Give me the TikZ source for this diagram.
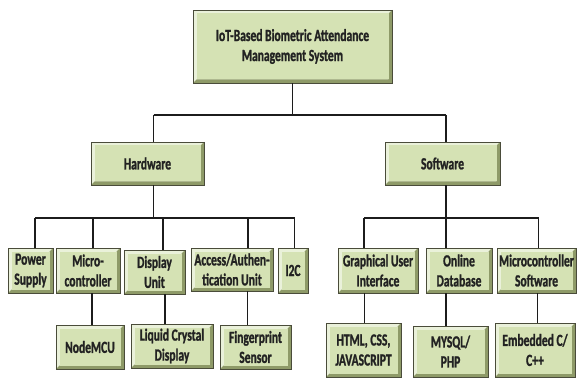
\documentclass[tikz,border=0pt]{standalone}
\usepackage{fontspec}
\newfontfamily\boxfont{Carlito}[FakeStretch=0.68, BoldFeatures={FakeBold=1.2}]
\definecolor{facegreen}{HTML}{D5E2B4}
\definecolor{bevlight}{HTML}{EAF1DA}
\definecolor{bevdark}{HTML}{8E9A68}
\definecolor{edgecol}{HTML}{4A4C3A}
\definecolor{txtcol}{HTML}{222222}
\definecolor{linecol}{HTML}{1C1C1C}
\tikzset{
  box/.style={rectangle, inner sep=0pt, align=center, text=txtcol,
    font=\boxfont\bfseries\fontsize{17}{20}\selectfont,
    draw=edgecol, line width=0.8pt,
    path picture={
      \fill[bevlight] (path picture bounding box.south west) rectangle (path picture bounding box.north east);
      \fill[bevdark] (path picture bounding box.south west) -- (path picture bounding box.south east)
        -- (path picture bounding box.north east) -- ([shift={(-3.5pt,-3.5pt)}]path picture bounding box.north east)
        -- ([shift={(-3.5pt,3.5pt)}]path picture bounding box.south east)
        -- ([shift={(3.5pt,3.5pt)}]path picture bounding box.south west) -- cycle;
      \fill[facegreen] ([shift={(3.5pt,3.5pt)}]path picture bounding box.south west) rectangle ([shift={(-3.5pt,-3.5pt)}]path picture bounding box.north east);
    }},
  conn/.style={draw=linecol, line width=1.6pt}
}
\begin{document}
\begin{tikzpicture}[x=1pt,y=-1pt]
\useasboundingbox[fill=white] (0,0) rectangle (577,379);
% nodes
\node[box, minimum width=199, minimum height=73] (top) at (292.5,46.5) {IoT-Based Biometric Attendance\\Management System};
\node[box, minimum width=113, minimum height=43] (hw) at (147.5,163.5) {Hardware};
\node[box, minimum width=115, minimum height=43] (sw) at (442.5,163.5) {Software};
\node[box, minimum width=45, minimum height=45] (ps) at (30.5,270.5) {Power\\Supply};
\node[box, minimum width=64, minimum height=45] (mc) at (88,270.5) {Micro-\\controller};
\node[box, minimum width=61, minimum height=44] (du) at (154.5,272) {Display\\Unit};
\node[box, minimum width=82, minimum height=43] (au) at (232,269.5) {Access/Authen-\\tication Unit};
\node[box, minimum width=30, minimum height=45] (i2) at (293,270.5) {I2C};
\node[box, minimum width=80, minimum height=45] (gui) at (378,270.5) {Graphical User\\Interface};
\node[box, minimum width=66, minimum height=45] (od) at (459,270.5) {Online\\Database};
\node[box, minimum width=79, minimum height=45] (ms) at (536.5,270.5) {Microcontroller\\Software};
\node[box, minimum width=68, minimum height=44] (nm) at (90,347) {NodeMCU};
\node[box, minimum width=82, minimum height=44] (lcd) at (172,346) {Liquid Crystal\\Display};
\node[box, minimum width=71, minimum height=44] (fp) at (255.5,347) {Fingerprint\\Sensor};
\node[box, minimum width=75, minimum height=54] (html) at (363.5,350) {HTML, CSS,\\JAVASCRIPT};
\node[box, minimum width=75, minimum height=51] (my) at (450.5,351.5) {MYSQL/\\PHP};
\node[box, minimum width=80, minimum height=54] (emb) at (535,350) {Embedded C/\\C++};
% junctions
\coordinate (jt) at (292.5,115);
\coordinate (jhw) at (153.5,115);
\coordinate (jsw) at (446,115);
\coordinate (bhw) at (153.5,218);
\coordinate (bsw) at (446,218);
\coordinate (jps) at (35,218);
\coordinate (jmc) at (93,218);
\coordinate (jdu) at (163,218);
\coordinate (jau) at (248,218);
\coordinate (ji2) at (294.5,218);
\coordinate (jgui) at (364,218);
\coordinate (jod) at (446,218);
\coordinate (jms) at (538.5,218);
\coordinate (smc) at (92,300);
\coordinate (sdu) at (165,300);
\coordinate (sau) at (247.5,300);
\coordinate (sgui) at (364.5,300);
\coordinate (sod) at (446,300);
\coordinate (sms) at (537.5,300);
% connectors
\draw[conn] (top.south) -- (jt);
\draw[conn] (jhw) -- (jsw);
\draw[conn] (jhw) -- (jhw |- hw.north);
\draw[conn] (jsw) -- (jsw |- sw.north);
\draw[conn] (bhw |- hw.south) -- (bhw);
\draw[conn] (bsw |- sw.south) -- (bsw);
\draw[conn] (jps) -- (ji2);
\draw[conn] (jgui) -- (jms);
\draw[conn] (jps) -- (jps |- ps.north);
\draw[conn] (jmc) -- (jmc |- mc.north);
\draw[conn] (jdu) -- (jdu |- du.north);
\draw[conn] (jau) -- (jau |- au.north);
\draw[conn] (ji2) -- (ji2 |- i2.north);
\draw[conn] (jgui) -- (jgui |- gui.north);
\draw[conn] (jod) -- (jod |- od.north);
\draw[conn] (jms) -- (jms |- ms.north);
\draw[conn] (smc |- mc.south) -- (smc |- nm.north);
\draw[conn] (sdu |- du.south) -- (sdu |- lcd.north);
\draw[conn] (sau |- au.south) -- (sau |- fp.north);
\draw[conn] (sgui |- gui.south) -- (sgui |- html.north);
\draw[conn] (sod |- od.south) -- (sod |- my.north);
\draw[conn] (sms |- ms.south) -- (sms |- emb.north);
\end{tikzpicture}
\end{document}
